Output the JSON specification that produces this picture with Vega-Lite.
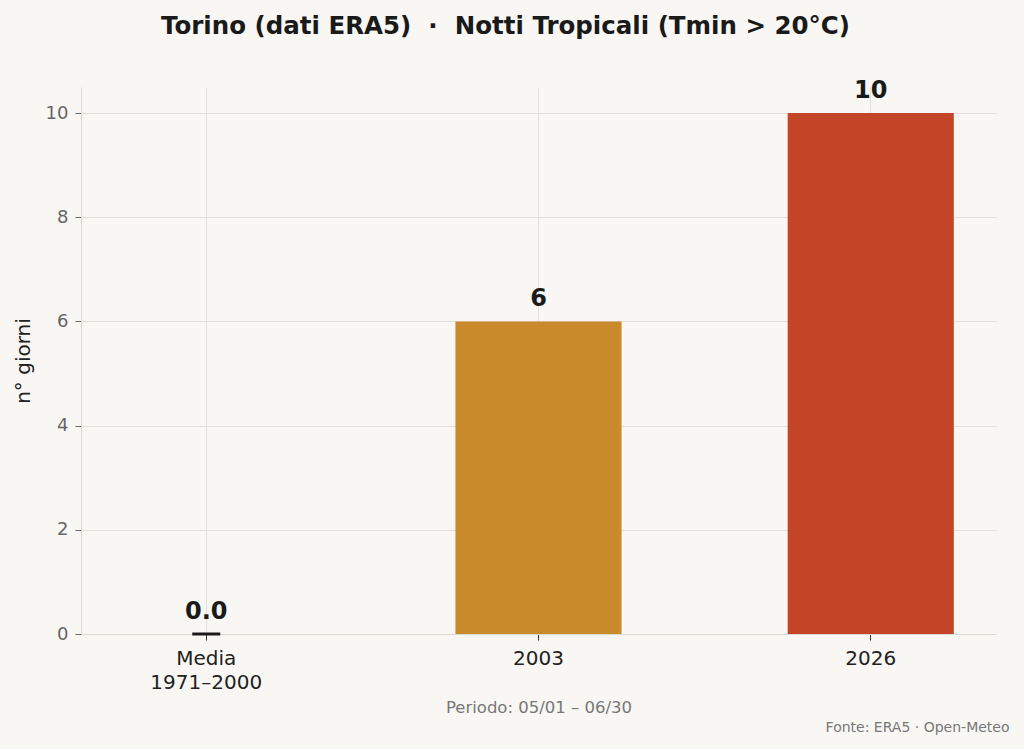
{
  "$schema": "https://vega.github.io/schema/vega-lite/v6.json",
  "autosize": "none",
  "width": 915,
  "height": 547,
  "padding": {"left": 81, "top": 87, "right": 28, "bottom": 115},
  "background": "#F8F7F4",
  "title": {
    "text": "Torino (dati ERA5) \u00a0·\u00a0 Notti Tropicali (Tmin > 20°C)",
    "font": "DejaVu Sans",
    "fontSize": 24.5,
    "fontWeight": "bold",
    "color": "#1a1a1a",
    "anchor": "middle",
    "frame": "group",
    "dx": -33,
    "offset": 40
  },
  "config": {
    "view": {"stroke": null},
    "font": "DejaVu Sans"
  },
  "data": {
    "values": [
      {"cat": "Media|1971–2000", "val": 0, "label": "0.0", "err": 0},
      {"cat": "2003", "val": 6, "label": "6"},
      {"cat": "2026", "val": 10, "label": "10"}
    ]
  },
  "encoding": {
    "x": {
      "field": "cat",
      "type": "nominal",
      "sort": null,
      "scale": {"paddingInner": 0.5, "paddingOuter": 0.127}
    }
  },
  "resolve": {"axis": {"x": "independent"}},
  "layer": [
    {
      "mark": {"type": "bar"},
      "encoding": {
        "x": {
          "field": "cat",
          "type": "nominal",
          "sort": null,
          "axis": {
            "orient": "bottom",
            "title": "Periodo: 05/01 – 06/30",
            "titleFontSize": 16.5,
            "titleFontWeight": "normal",
            "titleColor": "#777777",
            "titlePadding": 7,
            "labelAngle": 0,
            "labelExpr": "split(datum.label, '|')",
            "labelFontSize": 20,
            "labelColor": "#222222",
            "labelLineHeight": 24,
            "labelPadding": 8,
            "tickColor": "#333333",
            "tickSize": 6,
            "domainColor": "#dcd8d2",
            "grid": true,
            "gridColor": "#e2dfda"
          }
        },
        "y": {
          "field": "val",
          "type": "quantitative",
          "scale": {"domain": [0, 10.5], "nice": false},
          "axis": {
            "title": "n° giorni",
            "titleFontSize": 20,
            "titleFontWeight": "normal",
            "titleColor": "#222222",
            "titlePadding": 12,
            "values": [0, 2, 4, 6, 8, 10],
            "labelFontSize": 18,
            "labelColor": "#666666",
            "labelPadding": 7,
            "tickColor": "#666666",
            "tickSize": 6,
            "domainColor": "#dcd8d2",
            "gridColor": "#e2dfda"
          }
        },
        "color": {
          "field": "cat",
          "type": "nominal",
          "scale": {
            "domain": ["Media|1971–2000", "2003", "2026"],
            "range": ["#9e9e9e", "#C88A2A", "#C44428"]
          },
          "legend": null
        }
      }
    },
    {
      "mark": {
        "type": "text",
        "fontSize": 24,
        "fontWeight": "bold",
        "color": "#1a1a1a",
        "baseline": "alphabetic",
        "dy": -15
      },
      "encoding": {
        "x": {"field": "cat", "type": "nominal", "sort": null, "axis": null},
        "y": {"field": "val", "type": "quantitative"},
        "text": {"field": "label"}
      }
    },
    {
      "mark": {
        "type": "tick",
        "orient": "horizontal",
        "size": 28,
        "thickness": 3,
        "color": "#1a1a1a",
        "opacity": 1
      },
      "encoding": {
        "x": {
          "field": "cat",
          "type": "nominal",
          "sort": null,
          "axis": {
            "orient": "bottom",
            "offset": 0,
            "labels": false,
            "ticks": false,
            "domain": false,
            "grid": false,
            "title": "Fonte: ERA5 · Open-Meteo",
            "titleFontSize": 14,
            "titleFontWeight": "normal",
            "titleColor": "#777777",
            "titleAnchor": "end",
            "titleAlign": "right",
            "titleBaseline": "middle",
            "titleX": 928,
            "titleY": 93
          }
        },
        "y": {"field": "err", "type": "quantitative"}
      }
    }
  ]
}
